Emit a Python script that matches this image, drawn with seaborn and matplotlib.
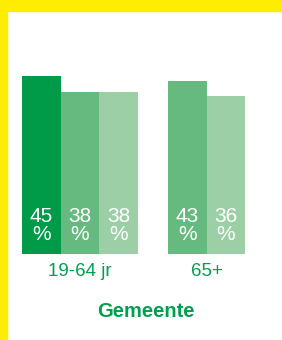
import pandas as pd
import seaborn as sns
import matplotlib.pyplot as plt
from matplotlib.patches import Rectangle

sns.set_style("white")
plt.rcParams['font.family'] = ['Liberation Sans', 'DejaVu Sans']

# data
groups = ["19-64 jr", "19-64 jr", "19-64 jr", "65+", "65+"]
series = ["A", "B", "C", "B", "C"]
values = [45, 38, 38, 43, 36]
group_order = ["19-64 jr", "65+"]
series_order = ["A", "B", "C"]
colors = ["#009B48", "#66B97F", "#9DCFA6"]
baseline = -35  # bars start below zero in the original

green = "#00A04E"
yellow = "#FFED00"

df = pd.DataFrame({"groep": groups, "reeks": series, "pct": values})

fig = plt.figure(figsize=(2.82, 3.40), dpi=100)
ax = fig.add_axes([0, 86 / 340, 1, 243 / 340])

sns.barplot(data=df, x="groep", y="pct", hue="reeks", order=group_order,
            hue_order=series_order, palette=colors, width=1.082, saturation=1,
            errorbar=None, legend=False, linewidth=0, ax=ax)

# move bar bottoms down to the baseline and put the labels in
centers = {}
for cont in ax.containers:
    for bar, v in zip(cont, cont.datavalues):
        h = bar.get_height()
        bar.set_y(baseline)
        bar.set_height(h - baseline)
        cx = bar.get_x() + bar.get_width() / 2
        centers.setdefault(round(cx), []).append(cx)
        ax.annotate(f"{v:.0f}\n%", xy=(cx, baseline), xytext=(0, 10),
                    textcoords="offset pixels", ha="center", va="bottom",
                    color="white", fontsize=15, linespacing=0.95)

ticks = [sum(c) / len(c) for k, c in sorted(centers.items())]
ax.set_xticks(ticks, group_order)
ax.tick_params(axis="x", length=0, pad=6.5, labelsize=13.5, labelcolor=green)
ax.set_yticks([])
ax.set_xlabel("")
ax.set_ylabel("")
ax.set_xlim(-80 / 107.3, 202 / 107.3)
ax.set_ylim(baseline, baseline + 243 / 2.22)
sns.despine(ax=ax, left=True, bottom=True)

fig.text(146 / 282, (340 - 317.3) / 340, "Gemeente", ha="center", va="baseline",
         fontsize=14.5, fontweight="bold", color=green)

# yellow frame on top and left
fig.patches.append(Rectangle((0, 1 - 11 / 340), 1, 11 / 340,
                             transform=fig.transFigure, color=yellow, zorder=5))
fig.patches.append(Rectangle((0, 0), 7 / 282, 1,
                             transform=fig.transFigure, color=yellow, zorder=5))

fig.savefig("out.png", dpi=100)
